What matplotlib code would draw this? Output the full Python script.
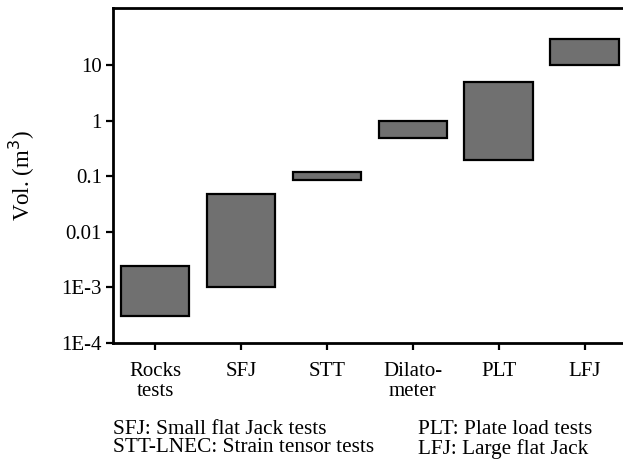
import matplotlib
matplotlib.use("Agg")
import matplotlib.pyplot as plt
import numpy as np

categories = ["Rocks\ntests", "SFJ", "STT", "Dilato-\nmeter", "PLT", "LFJ"]
vol_low = [3e-4, 1e-3, 0.085, 0.5, 0.2, 10]
vol_high = [2.4e-3, 0.048, 0.12, 1.0, 5.0, 30]
ytick_vals = [1e-4, 1e-3, 1e-2, 1e-1, 1, 10]
ytick_labels = ["1E-4", "1E-3", "0.01", "0.1", "1", "10"]

plt.rcParams['font.family'] = ['Liberation Serif', 'DejaVu Serif']

fig = plt.figure(figsize=(6.23, 4.63), dpi=100)
ax = fig.add_axes([0.1814, 0.2592, 0.8166, 0.7235])

x = np.arange(len(categories))
low = np.array(vol_low)
high = np.array(vol_high)
ax.bar(x, high - low, bottom=low, width=0.8, color='#707070',
       edgecolor='black', linewidth=1.6)

ax.set_yscale('log')
ax.set_ylim(1e-4, 10 ** 2.03)
ax.set_xlim(-0.49, 5.43)
ax.set_yticks(ytick_vals)
ax.set_yticklabels(ytick_labels)
ax.yaxis.set_minor_locator(matplotlib.ticker.NullLocator())
ax.set_xticks(x)
ax.set_xticklabels(categories, linespacing=1.1)

ax.tick_params(axis='both', direction='out', length=5, width=1.6,
               labelsize=15, colors='black', pad=3)
ax.tick_params(axis='x', pad=8.5)
for s in ['left', 'bottom', 'top']:
    ax.spines[s].set_linewidth(2)
ax.spines['right'].set_visible(False)

ax.set_ylabel("Vol. (m$^3$)", fontsize=16.5)
ax.yaxis.set_label_coords(-0.150, 0.5)

fs = 15.3
fig.text(113 / 623, 1 - 429 / 463, "SFJ: Small flat Jack tests", fontsize=fs, va='center', ha='left')
fig.text(113 / 623, 1 - 448 / 463, "STT-LNEC: Strain tensor tests", fontsize=fs, va='center', ha='left')
fig.text(418 / 623, 1 - 430 / 463, "PLT: Plate load tests", fontsize=fs, va='center', ha='left')
fig.text(418 / 623, 1 - 449 / 463, "LFJ: Large flat Jack", fontsize=fs, va='center', ha='left')

fig.savefig("out.png", dpi=100)
